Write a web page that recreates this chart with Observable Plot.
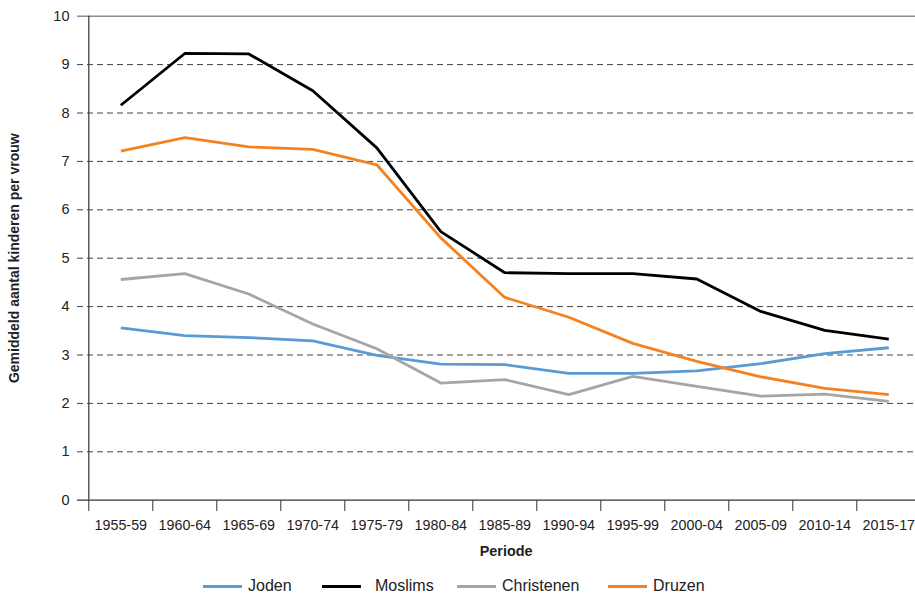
<!DOCTYPE html>
<html>
<head>
<meta charset="utf-8">
<script src="https://cdn.jsdelivr.net/npm/d3@7"></script>
<script src="https://cdn.jsdelivr.net/npm/@observablehq/plot@0.6"></script>
<style>
  html, body { margin: 0; padding: 0; background: #fff; }
  body { width: 915px; height: 594px; overflow: hidden; font-family: "Liberation Sans", Arial, sans-serif; }
  #legend { position: relative; height: 26px; width: 915px; margin-top: 5px; }
  .item { position: absolute; top: 0; height: 26px; display: flex; align-items: center; font-size: 16px; color: #222; }
  .sw { width: 39px; height: 3px; margin-right: 6px; }
</style>
</head>
<body>
<div id="chart"></div>
<div id="legend"></div>
<script>
const periods = ["1955-59","1960-64","1965-69","1970-74","1975-79","1980-84","1985-89","1990-94","1995-99","2000-04","2005-09","2010-14","2015-17"];
const joden      = [3.56, 3.40, 3.36, 3.29, 2.99, 2.81, 2.80, 2.62, 2.62, 2.67, 2.82, 3.03, 3.15];
const moslims    = [8.16, 9.23, 9.22, 8.46, 7.28, 5.55, 4.70, 4.68, 4.68, 4.57, 3.90, 3.51, 3.33];
const christenen = [4.56, 4.68, 4.26, 3.64, 3.13, 2.42, 2.49, 2.18, 2.56, 2.35, 2.15, 2.19, 2.04];
const druzen     = [7.21, 7.49, 7.30, 7.25, 6.93, 5.42, 4.19, 3.78, 3.24, 2.87, 2.55, 2.31, 2.18];
const seriesNames = ["Joden", "Moslims", "Christenen", "Druzen"];
const seriesColors = ["#5b9bd5", "#000000", "#a5a5a5", "#f58220"];
const yTicks = [0,1,2,3,4,5,6,7,8,9,10];
const yTitle = "Gemiddeld aantal kinderen per vrouw";
const xTitle = "Periode";

const seriesValues = [joden, moslims, christenen, druzen];
const data = [];
seriesNames.forEach((s, si) => seriesValues[si].forEach((v, i) => data.push({series: s, i, value: v})));
const idx = periods.map((_, i) => i);
const bounds = periods.map((_, i) => i - 0.5);

const chart = Plot.plot({
  width: 915,
  height: 568,
  marginLeft: 77,
  marginRight: 0,
  marginTop: 16,
  marginBottom: 68,
  style: {fontFamily: '"Liberation Sans", Arial, sans-serif', fontSize: "13px", color: "#222", background: "#fff"},
  x: {type: "linear", domain: [-0.5, 12.5], range: [88.3, 920.3]},
  y: {domain: [0, 10], range: [499.7, 15.7]},
  color: {domain: seriesNames, range: seriesColors},
  marks: [
    Plot.ruleY(yTicks.filter(d => d > 0 && d < 10), {stroke: "#444", strokeWidth: 1, strokeDasharray: "6,4"}),
    Plot.ruleY([10], {stroke: "#8c8c8c", strokeWidth: 1.6}),
    Plot.ruleX([-0.5], {y1: 0, y2: 10, stroke: "#333", strokeWidth: 1.2}),
    Plot.axisY({ticks: yTicks, tickSize: 0, tickPadding: 8, tickFormat: d => d, fontSize: 14.5, label: null}),
    Plot.axisX({ticks: bounds, tickSize: 11, tickFormat: () => "", stroke: "#333", label: null}),
    Plot.axisX({ticks: idx, tickSize: 0, tickPadding: 19, tickFormat: i => periods[i], fontSize: 14.3, label: null}),
    Plot.ruleY([0], {stroke: "#333", strokeWidth: 1.2}),
    Plot.line(data, {x: "i", y: "value", z: "series", stroke: "series", strokeWidth: 2.8, strokeLinejoin: "miter", strokeLinecap: "butt"}),
    Plot.text([xTitle], {x: () => 6.02, frameAnchor: "bottom", dy: 55, fontWeight: "bold", fontSize: 14.4, text: d => d}),
    Plot.text([yTitle], {y: () => 5, frameAnchor: "left", dx: -63, rotate: -90, textAnchor: "middle", fontWeight: "bold", fontSize: 14, text: d => d})
  ]
});
document.getElementById("chart").appendChild(chart);

const legendLeft = [203, 322, 457, 608];
const legend = document.getElementById("legend");
seriesNames.forEach((name, i) => {
  const item = document.createElement("div");
  item.className = "item";
  item.style.left = legendLeft[i] + "px";
  const sw = document.createElement("div");
  sw.className = "sw";
  sw.style.background = seriesColors[i];
  if (name === "Moslims") sw.style.marginRight = "14px";
  const t = document.createElement("span");
  t.textContent = name;
  item.appendChild(sw);
  item.appendChild(t);
  legend.appendChild(item);
});
</script>
</body>
</html>
